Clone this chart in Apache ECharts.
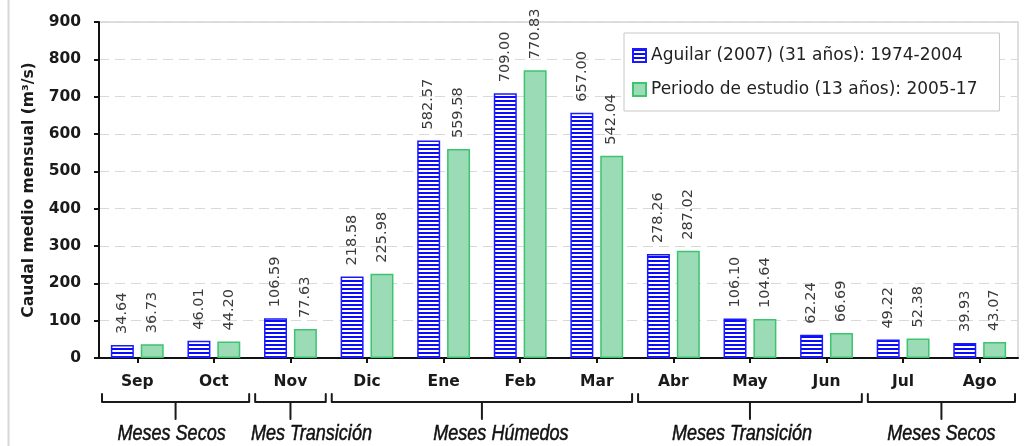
<!DOCTYPE html>
<html>
<head>
<meta charset="utf-8">
<script src="https://cdn.jsdelivr.net/npm/echarts@6/dist/echarts.min.js"></script>
<style>
  html, body { margin: 0; padding: 0; background: #fff; }
  #chart { width: 1024px; height: 446px; }
</style>
</head>
<body>
<div id="chart"></div>
<script>
// Monthly mean discharge, two periods
const categories = ['Sep', 'Oct', 'Nov', 'Dic', 'Ene', 'Feb', 'Mar', 'Abr', 'May', 'Jun', 'Jul', 'Ago'];
const aguilar = [34.64, 46.01, 106.59, 218.58, 582.57, 709.00, 657.00, 278.26, 106.10, 62.24, 49.22, 39.93];
const estudio = [36.73, 44.20, 77.63, 225.98, 559.58, 770.83, 542.04, 287.02, 104.64, 66.69, 52.38, 43.07];
const seriesNames = ['Aguilar (2007) (31 años): 1974-2004', 'Periodo de estudio (13 años): 2005-17'];

// Season groups under the month axis (first and last month index of each)
const seasonNames = ['Meses Secos', 'Mes Transición', 'Meses Húmedos', 'Meses Transición', 'Meses Secos'];
const seasonFirst = [0, 2, 3, 7, 10];
const seasonLast = [1, 2, 6, 9, 11];

// Horizontal nudge of each season caption relative to its brace stem (px)
const captionShift = [-4, 21, 19, -8, 0];

// Horizontal stripe fill for the first series
const stripe = document.createElement('canvas');
stripe.width = 4; stripe.height = 4;
(function () {
  const c = stripe.getContext('2d');
  c.fillStyle = '#ffffff'; c.fillRect(0, 0, 4, 4);
  c.fillStyle = '#0a0aff'; c.fillRect(0, 0, 4, 2);
})();

const chart = echarts.init(document.getElementById('chart'), null, { renderer: 'canvas' });

const labelCfg = {
  show: true,
  position: 'top',
  rotate: 90,
  align: 'left',
  verticalAlign: 'middle',
  distance: 11,
  fontFamily: 'DejaVu Sans',
  fontSize: 14.5,
  color: '#3a3a3a',
  formatter: p => p.value.toFixed(2)
};

chart.setOption({
  animation: false,
  backgroundColor: '#fff',
  grid: {
    left: 99, right: 6, top: 22, bottom: 88,
    show: true, borderColor: '#d4d4d4', borderWidth: 1.5, backgroundColor: 'transparent'
  },
  legend: {
    orient: 'vertical',
    left: 624, top: 33,
    icon: 'rect',
    itemWidth: 13, itemHeight: 13, itemGap: 17,
    padding: [14, 22, 13, 8],
    backgroundColor: '#fff',
    borderColor: '#c8c8c8', borderWidth: 1,
    textStyle: { fontFamily: 'DejaVu Sans', fontSize: 17, color: '#222' },
    data: seriesNames
  },
  xAxis: {
    type: 'category',
    data: categories,
    axisLine: { lineStyle: { color: '#111', width: 2 } },
    axisTick: { show: true, alignWithLabel: true, length: 5, lineStyle: { color: '#111', width: 2 } },
    axisLabel: { margin: 16, fontFamily: 'DejaVu Sans', fontWeight: 'bold', fontSize: 15.5, color: '#1a1a1a' }
  },
  yAxis: {
    type: 'value',
    min: 0, max: 900, interval: 100,
    name: 'Caudal medio mensual (m³/s)',
    nameLocation: 'middle',
    nameRotate: 90,
    nameGap: 62,
    nameTextStyle: { fontFamily: 'DejaVu Sans', fontWeight: 'bold', fontSize: 15.5, color: '#1a1a1a' },
    axisLine: { show: true, lineStyle: { color: '#111', width: 2 } },
    axisTick: { show: true, length: 5, lineStyle: { color: '#111', width: 2 } },
    axisLabel: { margin: 18, fontFamily: 'DejaVu Sans', fontWeight: 'bold', fontSize: 15.5, color: '#1a1a1a' },
    splitLine: { show: true, lineStyle: { color: '#d9d9d9', width: 1.2, type: [10, 6] } }
  },
  series: [
    {
      name: seriesNames[0],
      type: 'bar',
      data: aguilar,
      barGap: '30%',
      barCategoryGap: '31%',
      itemStyle: { color: { image: stripe, repeat: 'repeat' }, borderColor: '#1a1aff', borderWidth: 1.5 },
      label: labelCfg
    },
    {
      name: seriesNames[1],
      type: 'bar',
      data: estudio,
      itemStyle: { color: '#9bdcb7', borderColor: '#3cc46e', borderWidth: 1.5 },
      label: labelCfg
    }
  ]
});

// Season braces and captions, placed from the category axis
function drawSeasons() {
  const px = i => chart.convertToPixel({ xAxisIndex: 0 }, i);
  const band = px(1) - px(0);
  const topY = 394, barY = 402, stemY = 419, textY = 434;
  const lineStyle = { stroke: '#1a1a1a', lineWidth: 2, lineCap: 'round', lineJoin: 'round', fill: null };
  const els = [];
  seasonNames.forEach((name, k) => {
    const xL = px(seasonFirst[k]) - band / 2 + 3;
    const xR = px(seasonLast[k]) + band / 2 - 3;
    const xM = (xL + xR) / 2;
    els.push({
      type: 'polyline', silent: true,
      shape: { points: [[xL, topY], [xL, barY], [xR, barY], [xR, topY]] },
      style: lineStyle
    });
    els.push({
      type: 'line', silent: true,
      shape: { x1: xM, y1: barY, x2: xM, y2: stemY },
      style: lineStyle
    });
    // condensed italic caption
    els.push({
      type: 'text', silent: true,
      x: xM + captionShift[k], y: textY,
      scaleX: 0.82,
      style: {
        text: name, align: 'center', verticalAlign: 'middle',
        fontFamily: 'Liberation Sans', fontStyle: 'italic',
        fontSize: 22, fill: '#111', stroke: '#111', lineWidth: 0.5
      }
    });
  });
  // outer frame edge on the left
  els.push({
    type: 'line', silent: true,
    shape: { x1: 8.5, y1: 0, x2: 8.5, y2: 446 },
    style: { stroke: '#d6d6d6', lineWidth: 2 }
  });
  chart.setOption({ graphic: { elements: els } });
}
drawSeasons();
</script>
</body>
</html>
